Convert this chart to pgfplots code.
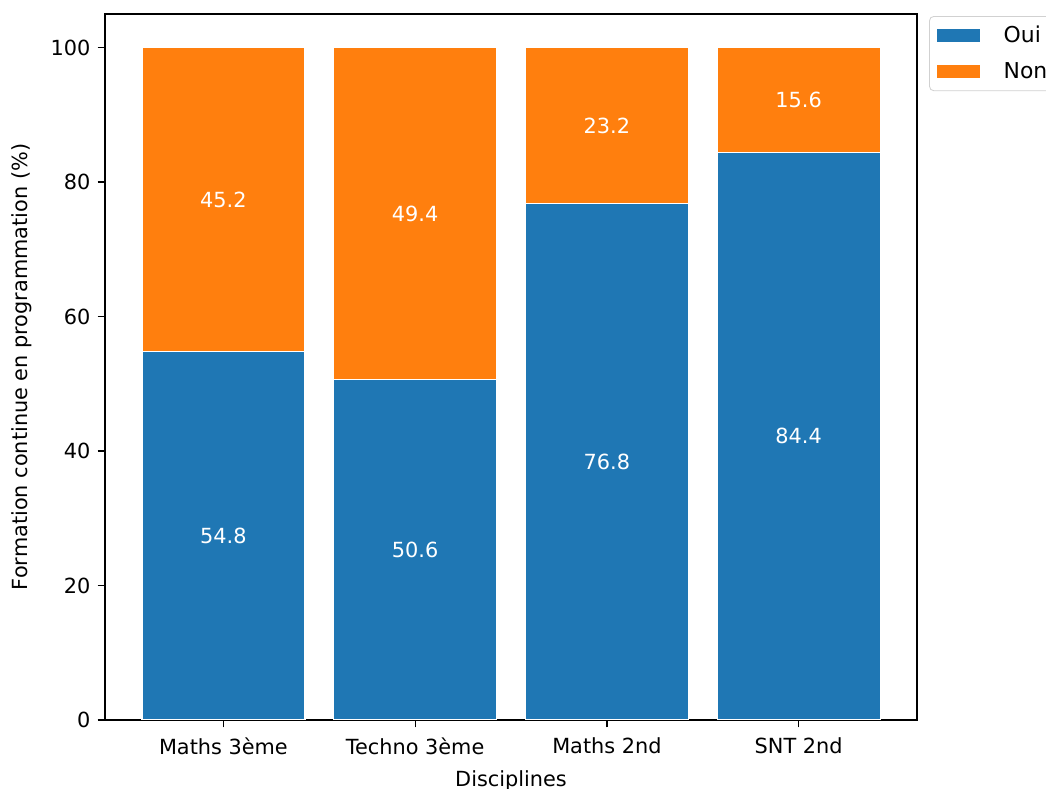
\documentclass[border=0pt]{standalone}
\usepackage{fontspec}
\setmainfont{DejaVu Sans}
\usepackage{pgfplots}
\pgfplotsset{compat=1.18}
\definecolor{mblue}{HTML}{1F77B4}
\definecolor{morange}{HTML}{FF7F0E}
\begin{document}
\begin{tikzpicture}
\begin{axis}[
  scale only axis, width=389.8pt, height=338.9pt,
  at={(0,0)}, anchor=south west,
  ybar stacked, bar width=0.85,
  xmin=-0.6175, xmax=3.6175, ymin=0, ymax=105,
  xtick={0,1,2,3}, xticklabels={Maths 3ème, Techno 3ème, Maths 2nd, SNT 2nd},
  ytick={0,20,40,60,80,100},
  tick align=outside, major tick length=3.5pt,
  xtick pos=bottom, ytick pos=left,
  tick style={black, line width=0.6pt},
  axis line style={line width=0.6pt},
  /pgf/number format/assume math mode=true,
  tick label style={font=\fontsize{10}{12}\selectfont},
  xticklabel style={yshift=-1.5pt},
  label style={font=\fontsize{10}{12}\selectfont},
  xlabel={Disciplines},
  ylabel={Formation continue en programmation (\%)},
  xlabel style={at={([yshift=-29.3pt]axis description cs:0.5,0)}, anchor=center},
  ylabel style={at={([xshift=-39.8pt]axis description cs:0,0.5)}, anchor=center},
  legend style={at={(1,1)}, anchor=north west, xshift=5.8pt, yshift=-1pt,
    draw=black!18, rounded corners=2pt, font=\fontsize{10.5}{12}\selectfont,
    inner xsep=3pt, inner ysep=2.5pt, row sep=4pt, cells={anchor=west}},
  legend image code/.code={\fill[#1, sharp corners] (0cm,-3.35pt) rectangle (21pt,3.35pt); \path (21pt,0) -- (30pt,0);},
]
\addplot[fill=mblue, draw=white, line width=0.6pt] coordinates {(0,54.8) (1,50.6) (2,76.8) (3,84.4)};
\addplot[fill=morange, draw=white, line width=0.6pt] coordinates {(0,45.2) (1,49.4) (2,23.2) (3,15.6)};
\legend{Oui, Non}
\end{axis}
\begin{axis}[
  scale only axis, width=389.8pt, height=338.9pt,
  at={(0,0)}, anchor=south west,
  xmin=-0.6175, xmax=3.6175, ymin=0, ymax=105,
  axis lines=none, clip=false,
]
\addplot[draw=none, mark=none, nodes near coords, point meta=explicit symbolic,
  nodes near coords style={anchor=center, text=white, font=\fontsize{10}{12}\selectfont}]
  table[meta=lab] {
x y lab
0 27.4 54.8
1 25.3 50.6
2 38.4 76.8
3 42.2 84.4
0 77.4 45.2
1 75.3 49.4
2 88.4 23.2
3 92.2 15.6
};
\end{axis}
\pgfresetboundingbox
\useasboundingbox (-50.4pt,-33.1pt) rectangle (451.7pt,345.6pt);
\end{tikzpicture}
\end{document}
